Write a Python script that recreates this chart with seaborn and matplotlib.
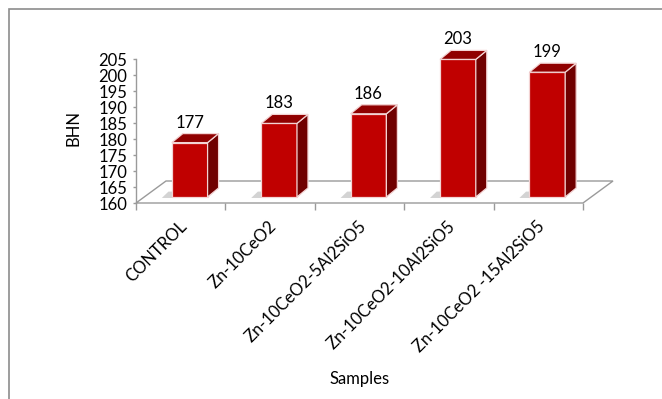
import matplotlib
matplotlib.use("Agg")
import matplotlib.pyplot as plt
import seaborn as sns
from matplotlib.patches import Polygon, Rectangle
from matplotlib.transforms import ScaledTranslation

# Brinell hardness of the zinc composite samples
samples = ["CONTROL", "Zn-10CeO2", "Zn-10CeO2-5Al2SiO5",
           "Zn-10CeO2-10Al2SiO5", "Zn-10CeO2 -15Al2SiO5"]
bhn = [177, 183, 186, 203, 199]
y_ticks = list(range(160, 206, 5))
BASE = 160

sns.set_theme(style="white")
plt.rcParams["font.family"] = ["Lato", "DejaVu Sans"]

W, H, DPI = 662, 399, 100
FS = 12
fig = plt.figure(figsize=(W / DPI, H / DPI), dpi=DPI)
fig.patch.set_facecolor("white")

# plot area in pixels (left, right, top, bottom)
L, R, T, B = 136, 583, 59, 203
ax = fig.add_axes([L / W, 1 - B / H, (R - L) / W, (B - T) / H])

FRONT = "#C00000"
SIDE = "#700000"
TOP = "#900000"
EDGE = "#F3D3D3"
GRID = "#9a9a9a"

sns.barplot(x=samples, y=bhn, color=FRONT, saturation=1, width=0.4,
            edgecolor=EDGE, linewidth=0.9, ax=ax)

ax.set_xlim(-0.5, 4.5)
ax.set_ylim(160, 205)

ppx = (R - L) / 5.0
ppy = (B - T) / 45.0


def px(dx, dy):
    """Convert a pixel offset into data units of this axes."""
    return dx / ppx, dy / ppy


# floor of the 3-D box
fdx, fdy = px(30, 22)
floor = Polygon([(-0.5, BASE), (4.5, BASE), (4.5 + fdx, BASE + fdy),
                 (-0.5 + fdx, BASE + fdy)], closed=True, facecolor="white",
                edgecolor=GRID, linewidth=1.0, zorder=0.5, clip_on=False)
ax.add_patch(floor)

ox, oy = px(9, 6)      # bars sit in the middle of the floor depth
dx, dy = px(11, 9)     # depth of each bar
sx, _ = px(10, 0)      # shadow spread

for p in list(ax.patches):
    if p is floor:
        continue
    top = p.get_height()
    w = p.get_width()
    x0 = p.get_x() + ox
    y0 = BASE + oy
    y1 = top + oy
    p.set_x(x0)
    p.set_y(y0)
    p.set_height(top - BASE)
    p.set_zorder(3)
    p.set_clip_on(False)

    shadow = Polygon([(x0 - sx, y0 - 0.3), (x0 + w, y0 - 0.3),
                      (x0 + w + dx * 0.6, y0 + dy * 0.6),
                      (x0 - sx + dx * 0.6, y0 + dy * 0.6)],
                     closed=True, facecolor="#c8c8c8", edgecolor="none",
                     alpha=0.8, zorder=2, clip_on=False)
    side = Polygon([(x0 + w, y0), (x0 + w + dx, y0 + dy),
                    (x0 + w + dx, y1 + dy), (x0 + w, y1)], closed=True,
                   facecolor=SIDE, edgecolor=EDGE, linewidth=0.9,
                   zorder=3, clip_on=False)
    lid = Polygon([(x0, y1), (x0 + w, y1), (x0 + w + dx, y1 + dy),
                   (x0 + dx, y1 + dy)], closed=True, facecolor=TOP,
                  edgecolor=EDGE, linewidth=0.9, zorder=3.5, clip_on=False)
    for art in (shadow, side, lid):
        ax.add_patch(art)

    lbl = ax.text(x0 + w / 2, y1 + dy, f"{top:.0f}", ha="center",
                  va="bottom", fontsize=FS, color="black", zorder=5,
                  clip_on=False)
    lbl.set_transform(ax.transData +
                      ScaledTranslation(0, 3 / DPI, fig.dpi_scale_trans))

# axes decoration
for s in ("top", "right", "bottom"):
    ax.spines[s].set_visible(False)
ax.spines["left"].set_color(GRID)
ax.spines["left"].set_linewidth(1.0)

ax.set_yticks(y_ticks)
ax.tick_params(axis="y", left=True, length=2.5, width=1.0, color=GRID,
               labelsize=FS, pad=4, labelcolor="black")

ax.set_xticks(range(len(samples)), samples)
ax.set_xticks([i - 0.5 for i in range(len(samples) + 1)], minor=True)
ax.tick_params(axis="x", which="major", bottom=True, length=0, pad=15,
               labelsize=FS, labelcolor="black")
ax.tick_params(axis="x", which="minor", bottom=True, length=5, width=1.0,
               color=GRID)
for t in ax.get_xticklabels():
    t.set_rotation(45)
    t.set_ha("right")
    t.set_va("center")
    t.set_rotation_mode("anchor")
    t.set_transform(t.get_transform() +
                    ScaledTranslation(4 / DPI, 0, fig.dpi_scale_trans))

ax.set_ylabel("BHN", fontsize=FS, color="black")
ax.yaxis.label.set_va("center")
ax.yaxis.set_label_coords((73 - L) / (R - L), (B - 128) / (B - T))
ax.set_xlabel("Samples", fontsize=FS, color="black")
ax.xaxis.label.set_va("center")
ax.xaxis.set_label_coords((360 - L) / (R - L), (B - 379) / (B - T))
ax.grid(False)
ax.set_facecolor("none")

# chart-area frame
fig.add_artist(Rectangle((9 / W, -0.2), 1.2, 1 - 9 / H + 0.2,
                         transform=fig.transFigure, fill=False,
                         edgecolor="#8c8c8c", linewidth=1.2))

fig.savefig("out.png", dpi=DPI)
